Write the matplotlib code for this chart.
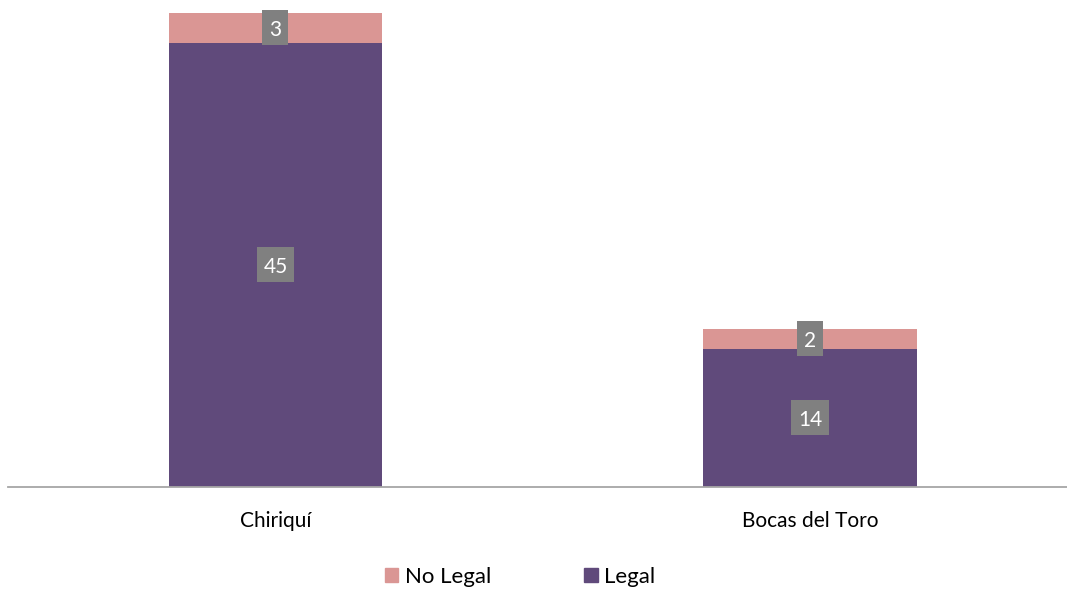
import matplotlib.pyplot as plt
from matplotlib.patches import Patch, Rectangle
from matplotlib.transforms import ScaledTranslation

plt.rcParams['font.family'] = ['Lato', 'DejaVu Sans']

categories = ['Chiriquí', 'Bocas del Toro']
legal = [45, 14]
no_legal = [3, 2]

LEGAL_COLOR = '#604A7B'
NO_LEGAL_COLOR = '#DA9694'
BOX_COLOR = '#808080'

fig = plt.figure(figsize=(10.67, 5.89), dpi=100)
W, H = 1067, 589
# axes placed in pixel terms: left 8, baseline at 487, top (48) at 13
ax = fig.add_axes([8 / W, 1 - 487 / H, (W - 8) / W, (487 - 13) / H])

x = list(range(len(categories)))
ax.bar(x, legal, width=0.4, color=LEGAL_COLOR, zorder=2)
ax.bar(x, no_legal, width=0.4, bottom=legal, color=NO_LEGAL_COLOR, zorder=2)


def label(xc, yc, val):
    # gray box sized in inches, centred on the data point
    s = str(val)
    w = 0.26 if len(s) == 1 else 0.375
    h = 0.35
    tr = fig.dpi_scale_trans + ScaledTranslation(xc, yc, ax.transData)
    ax.add_patch(Rectangle((-w / 2, -h / 2), w, h, transform=tr,
                           fc=BOX_COLOR, ec='none', zorder=3, clip_on=False))
    ax.text(xc, yc, s, ha='center', va='center_baseline', color='white',
            fontsize=15, zorder=4)


for i in x:
    label(i, legal[i] / 2, legal[i])
    label(i, legal[i] + no_legal[i] / 2, no_legal[i])

ax.set_xlim(-0.5005, 1.481)
ax.set_ylim(0, 48)
for s in ['top', 'right', 'left']:
    ax.spines[s].set_visible(False)
ax.spines['bottom'].set_color('#A6A6A6')
ax.spines['bottom'].set_linewidth(1.3)
ax.set_yticks([])
ax.set_xticks(x)
ax.set_xticklabels(categories, fontsize=15)
ax.tick_params(axis='x', length=0, pad=17)

handles = [Patch(color=NO_LEGAL_COLOR, label='No Legal'),
           Patch(color=LEGAL_COLOR, label='Legal')]
fig.legend(handles=handles, loc='center', bbox_to_anchor=(520 / W, 1 - 577 / H),
           ncol=2, frameon=False, fontsize=16, handlelength=0.6,
           handleheight=0.6, handletextpad=0.3, columnspacing=4.2)

fig.savefig('out.png', dpi=100)
